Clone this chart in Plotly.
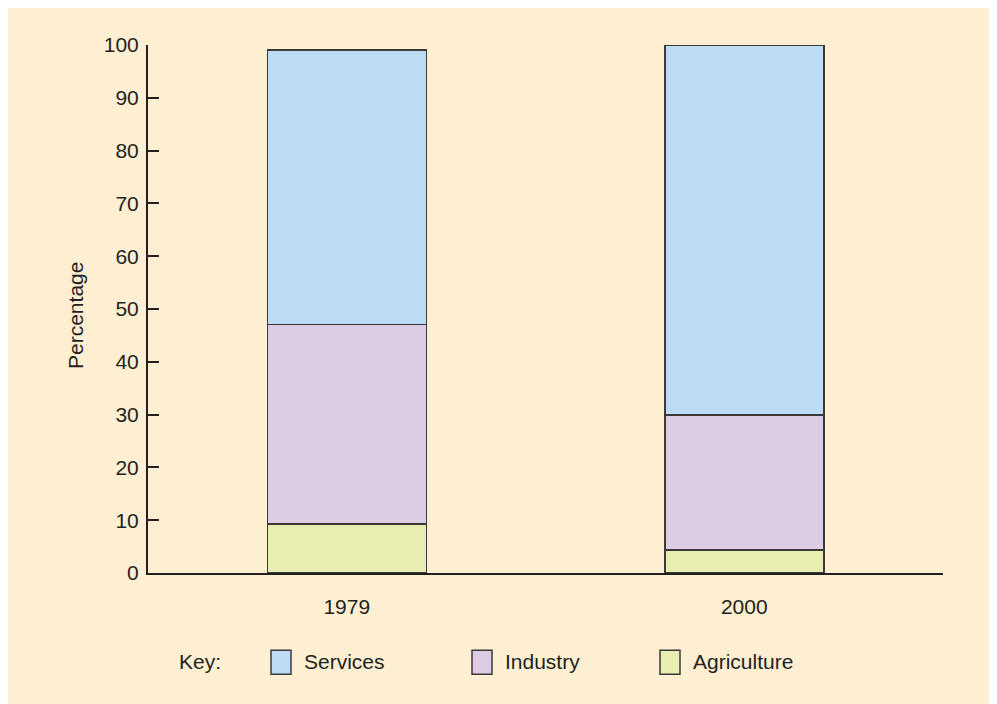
import plotly.graph_objects as go

years = ["1979", "2000"]
agriculture = [9.3, 4.4]
industry = [37.8, 25.5]
services = [52.0, 70.1]
series_names = ["Services", "Industry", "Agriculture"]
colors = {"Services": "#bbdcf4", "Industry": "#ddcce3", "Agriculture": "#e8edb0"}
y_ticks = list(range(0, 101, 10))
y_title = "Percentage"

FONT = "Liberation Sans, Arial, sans-serif"
OFF = 8  # page body margin
W, H = 997 - OFF, 704 - OFF
L = 148 - OFF
T = 44.5 - OFF
R = 997 - 943
B = 704 - 573.5
FS = 21

fig = go.Figure()
for name, vals in [("Agriculture", agriculture), ("Industry", industry), ("Services", services)]:
    fig.add_bar(x=years, y=vals, name=name, width=0.4,
                marker=dict(color=colors[name], line=dict(color="#3a3a3a", width=1.5)),
                showlegend=False)

pw = W - L - R
ph = H - T - B
def px_x(x):
    return (x - OFF - L) / pw
def px_y(y):
    return (H - B - (y - OFF)) / ph

shapes = []
annotations = [
    dict(text="Key:", xref="paper", yref="paper", x=px_x(177), y=px_y(662),
         xanchor="left", yanchor="middle", showarrow=False,
         font=dict(family=FONT, size=FS, color="#231f20")),
    dict(text=y_title, xref="paper", yref="paper", x=px_x(76), y=px_y(316),
         xanchor="center", yanchor="middle", showarrow=False, textangle=-90,
         font=dict(family=FONT, size=FS, color="#231f20")),
]
legend_x = [271, 472, 660]
for name, lx in zip(series_names, legend_x):
    shapes.append(dict(type="rect", xref="paper", yref="paper",
                       x0=px_x(lx), x1=px_x(lx + 20), y0=px_y(675), y1=px_y(651),
                       fillcolor=colors[name], line=dict(color="#3a3a3a", width=1.5)))
    annotations.append(dict(text=name, xref="paper", yref="paper", x=px_x(lx + 31), y=px_y(662),
                            xanchor="left", yanchor="middle", showarrow=False,
                            font=dict(family=FONT, size=FS, color="#231f20")))

fig.update_layout(
    width=W, height=H,
    margin=dict(l=L, r=R, t=T, b=B, pad=0),
    barmode="stack",
    paper_bgcolor="#feefd3",
    plot_bgcolor="rgba(0,0,0,0)",
    font=dict(family=FONT, size=FS, color="#231f20"),
    shapes=shapes,
    annotations=annotations,
    xaxis=dict(range=[-0.5, 1.5], showline=True, linecolor="#231f20", linewidth=2,
               ticks="", showgrid=False, zeroline=False, ticklabelstandoff=14,
               tickfont=dict(size=FS)),
    yaxis=dict(range=[0, 100], tickvals=y_ticks, showline=True, linecolor="#231f20", linewidth=2,
               ticks="inside", ticklen=11, tickwidth=1.5, tickcolor="#231f20",
               ticklabelstandoff=3,
               showgrid=False, zeroline=False, tickfont=dict(size=FS)),
)

fig.write_html("out.html")
